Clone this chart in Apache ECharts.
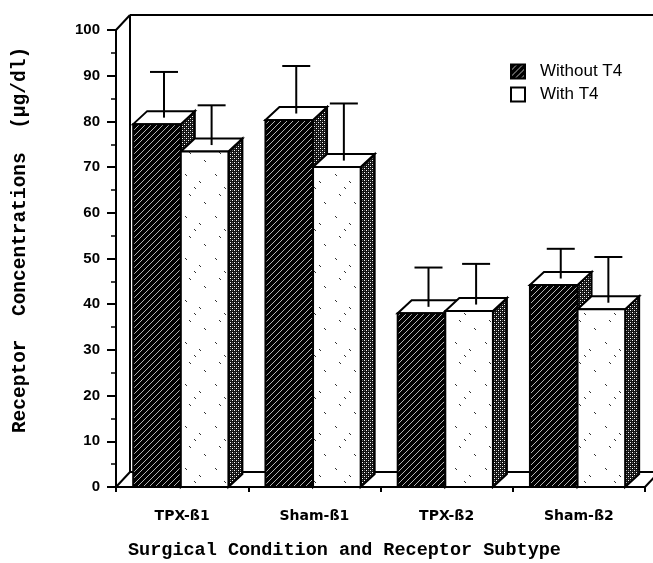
<!DOCTYPE html>
<html><head><meta charset="utf-8">
<script src="https://cdn.jsdelivr.net/npm/echarts@6/dist/echarts.min.js"></script>
<style>html,body{margin:0;padding:0;background:#fff}#c{width:653px;height:563px}</style>
</head><body><div id="c"></div>
<script>
// ---- data ----
const categories = ['TPX-ß1', 'Sham-ß1', 'TPX-ß2', 'Sham-ß2'];
const seriesNames = ['Without T4', 'With T4'];
const withoutT4 = [79.4, 80.3, 38.0, 44.2];
const withoutT4Err = [10.0, 10.4, 8.6, 6.5];
const withT4 = [73.4, 70.0, 38.5, 38.9];
const withT4Err = [8.7, 12.5, 8.9, 10.0];
const yMin = 0, yMax = 100, yInterval = 10;
const xTitle = 'Surgical Condition and Receptor Subtype';
const yTitle = 'Receptor  Concentrations  (µg/dl)';

// ---- patterns ----
function makeCanvas(w, h, fn) {
  const c = document.createElement('canvas'); c.width = w; c.height = h;
  fn(c.getContext('2d')); return c;
}
const hatchCanvas = makeCanvas(6, 6, ctx => {
  ctx.fillStyle = '#000'; ctx.fillRect(0, 0, 6, 6);
  ctx.fillStyle = '#b4b4b4';
  for (let x = 0; x < 6; x++) for (let y = 0; y < 6; y++) if ((x + y) % 6 === 5) ctx.fillRect(x, y, 1, 1);
});
const stippleCanvas = makeCanvas(4, 4, ctx => {
  ctx.fillStyle = '#111'; ctx.fillRect(0, 0, 4, 4);
  ctx.fillStyle = '#fff'; ctx.fillRect(0, 0, 1, 1); ctx.fillRect(2, 2, 1, 1);
  ctx.fillStyle = '#666'; ctx.fillRect(2, 0, 1, 1); ctx.fillRect(0, 2, 1, 1);
});
const speckCanvas = makeCanvas(30, 42, ctx => {
  ctx.fillStyle = '#fff'; ctx.fillRect(0, 0, 30, 42);
  ctx.fillStyle = '#333';
  [[5, 6], [19, 13], [9, 26], [24, 34], [14, 19]].forEach(([x, y]) => {
    ctx.fillRect(x, y, 1, 1); ctx.fillRect(x + 1, y + 1, 1, 1);
  });
});
const hatch = { image: hatchCanvas, repeat: 'repeat' };
const stipple = { image: stippleCanvas, repeat: 'repeat' };
const speck = { image: speckCanvas, repeat: 'repeat' };

const DX = 14, DY = -13;     // bar depth
const FDX = 14, FDY = -15;   // frame depth
const LW = 2;

function barRenderer(slot, facePattern) {
  return function (params, api) {
    const i = api.value(0), v = api.value(1), e = api.value(2);
    const base = api.coord([i, 0]);
    const top = api.coord([i, v]);
    const errTop = api.coord([i, v + e]);
    const cw = api.size([1, 0])[0];
    const bw = cw * 0.36;
    const x0 = base[0] - cw * 0.37 + slot * bw;
    const x1 = x0 + bw;
    const y0 = base[1], y1 = top[1];
    const stroke = { stroke: '#000', lineWidth: LW, lineJoin: 'miter' };
    const cx = (x0 + x1) / 2 + DX / 2;
    const cy = y1 + DY / 2;
    const ey = errTop[1] + DY / 2;
    return {
      type: 'group',
      children: [
        { type: 'polygon', shape: { points: [[x1, y0], [x1 + DX, y0 + DY], [x1 + DX, y1 + DY], [x1, y1]] },
          style: Object.assign({ fill: stipple }, stroke) },
        { type: 'polygon', shape: { points: [[x0, y1], [x0 + DX, y1 + DY], [x1 + DX, y1 + DY], [x1, y1]] },
          style: Object.assign({ fill: '#fff' }, stroke) },
        { type: 'rect', shape: { x: x0, y: y1, width: bw, height: y0 - y1 },
          style: Object.assign({ fill: facePattern }, stroke) },
        { type: 'line', shape: { x1: cx, y1: cy, x2: cx, y2: ey }, style: { stroke: '#000', lineWidth: LW } },
        { type: 'line', shape: { x1: cx - 14, y1: ey, x2: cx + 14, y2: ey }, style: { stroke: '#000', lineWidth: LW } }
      ]
    };
  };
}

function frameRenderer(params, api) {
  const cs = params.coordSys;
  const L = cs.x, T = cs.y, R = cs.x + cs.width, B = cs.y + cs.height;
  const st = { stroke: '#000', lineWidth: LW };
  const W = api.getWidth();
  const ln = (a, b, c, d) => ({ type: 'line', shape: { x1: a, y1: b, x2: c, y2: d }, style: st });
  return {
    type: 'group',
    children: [
      ln(L, T, L + FDX, T + FDY),
      ln(L + FDX, T + FDY, W + 5, T + FDY),
      ln(L + FDX, T + FDY, L + FDX, B + FDY),
      ln(L, B, L + FDX, B + FDY),
      ln(L + FDX, B + FDY, R + FDX + 5, B + FDY),
      ln(R, B, R + FDX, B + FDY)
    ]
  };
}

const chart = echarts.init(document.getElementById('c'), null, { renderer: 'canvas' });
chart.setOption({
  backgroundColor: '#fff',
  animation: false,
  grid: { left: 116, right: 8, top: 30, bottom: 76 },
  legend: {
    orient: 'vertical', left: 505, top: 58, itemWidth: 14, itemHeight: 14, itemGap: 6,
    icon: 'rect',
    textStyle: { fontFamily: 'Liberation Sans', fontSize: 17, color: '#000', padding: [0, 0, 0, 10] },
    data: [
      { name: seriesNames[0], itemStyle: { color: hatch, borderColor: '#000', borderWidth: 2 } },
      { name: seriesNames[1], itemStyle: { color: '#fff', borderColor: '#000', borderWidth: 2 } }
    ]
  },
  xAxis: {
    type: 'category', data: categories, boundaryGap: true,
    axisLine: { lineStyle: { color: '#000', width: LW } },
    axisTick: { show: true, length: 5, lineStyle: { color: '#000', width: LW } },
    axisLabel: { margin: 22, color: '#000', fontFamily: 'DejaVu Sans', fontWeight: 'bold', fontSize: 14 },
    splitLine: { show: false }
  },
  yAxis: {
    type: 'value', min: yMin, max: yMax, interval: yInterval,
    axisLine: { show: true, lineStyle: { color: '#000', width: LW } },
    axisTick: { show: true, length: 9, lineStyle: { color: '#000', width: LW } },
    minorTick: { show: true, splitNumber: 2, length: 5, lineStyle: { color: '#000', width: 1.5 } },
    axisLabel: { margin: 16, color: '#000', fontFamily: 'Liberation Sans', fontWeight: 'bold', fontSize: 15 },
    splitLine: { show: false }
  },
  graphic: [
    { type: 'text', left: 128, top: 541, silent: true,
      style: { text: xTitle, font: 'bold 18.5px "Liberation Mono"', fill: '#000' } },
    { type: 'text', x: 20, y: 240, rotation: Math.PI / 2, silent: true,
      style: { text: yTitle, font: 'bold 19.5px "Liberation Mono"', fill: '#000', textAlign: 'center', textVerticalAlign: 'middle' } }
  ],
  series: [
    { type: 'custom', name: '__frame', renderItem: frameRenderer, data: [[0]], silent: true, z: 1 },
    { type: 'custom', name: seriesNames[0], renderItem: barRenderer(0, hatch),
      itemStyle: { color: hatch },
      data: categories.map((c, i) => [i, withoutT4[i], withoutT4Err[i]]), z: 2 },
    { type: 'custom', name: seriesNames[1], renderItem: barRenderer(1, speck),
      itemStyle: { color: '#fff' },
      data: categories.map((c, i) => [i, withT4[i], withT4Err[i]]), z: 2 }
  ]
});
</script></body></html>
